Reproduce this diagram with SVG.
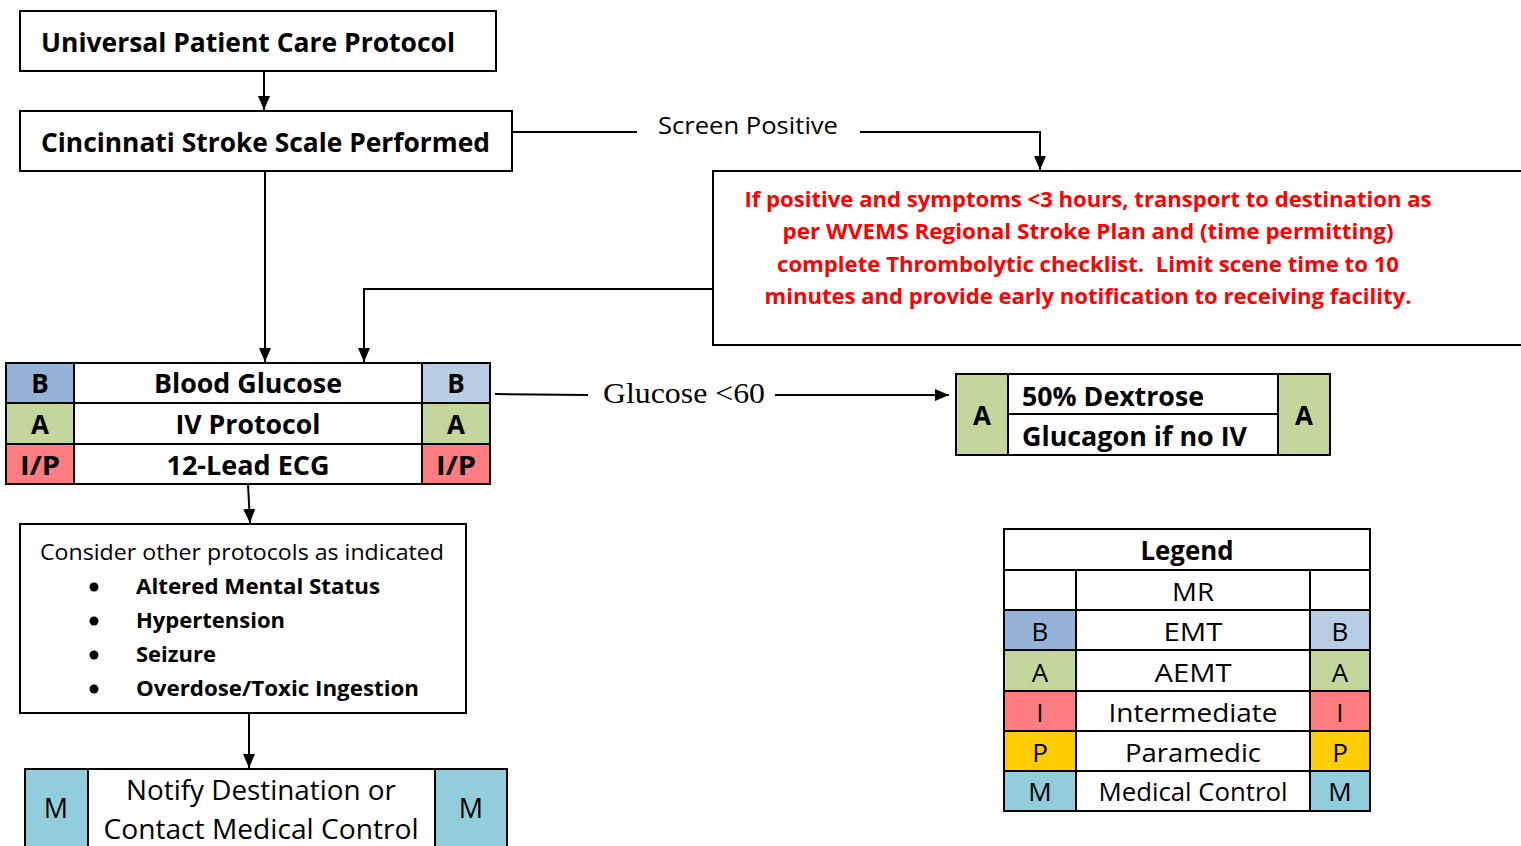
<svg xmlns="http://www.w3.org/2000/svg" width="1521" height="846" viewBox="0 0 1521 846">
<style>
.box{fill:#fff;stroke:#000;stroke-width:2}
.cell{stroke:#000;stroke-width:2}
.ln{fill:none;stroke:#000;stroke-width:2}
.t{font-family:"Open Sans","Liberation Sans",sans-serif;fill:#000}
.b{font-weight:bold}
.c{text-anchor:middle}
.red{fill:#FF0000;font-weight:bold;font-size:21px;text-anchor:middle}
.bl{fill:#95B3D7}.bl2{fill:#B8CCE4}.gr{fill:#C3D69B}.rd{fill:#FF7C80}.yl{fill:#FFCC00}.cy{fill:#92CDDC}.wh{fill:#fff}
</style>
<defs>
<marker id="ah" markerWidth="14" markerHeight="12" refX="14" refY="6" orient="auto" markerUnits="userSpaceOnUse">
<path d="M0,0 L14,6 L0,12 Z" fill="#000"/>
</marker>
</defs>

<g id="connectors">
<line class="ln" x1="264" y1="71" x2="264" y2="110" marker-end="url(#ah)"/>
<polyline class="ln" points="512,132 637,132"/>
<polyline class="ln" points="860,132 1040,132 1040,170" marker-end="url(#ah)"/>
<line class="ln" x1="265" y1="171" x2="265" y2="362" marker-end="url(#ah)"/>
<polyline class="ln" points="713,289 364,289 364,362" marker-end="url(#ah)"/>
<line class="ln" x1="495" y1="394" x2="588" y2="395"/>
<line class="ln" x1="775" y1="395" x2="949" y2="395" marker-end="url(#ah)"/>
<line class="ln" x1="248" y1="484" x2="250" y2="523" marker-end="url(#ah)"/>
<line class="ln" x1="249" y1="713" x2="249" y2="768" marker-end="url(#ah)"/>
<text class="t" x="658" y="134" font-size="23" textLength="180" lengthAdjust="spacingAndGlyphs">Screen Positive</text>
<text x="603" y="403" font-family="'Liberation Serif',serif" font-size="30" textLength="162" lengthAdjust="spacingAndGlyphs">Glucose &lt;60</text>
</g>

<g id="universal">
<rect class="box" x="20" y="11" width="476" height="60"/>
<text class="t b" x="41" y="52" font-size="27" textLength="414" lengthAdjust="spacingAndGlyphs">Universal Patient Care Protocol</text>
</g>

<g id="cincinnati">
<rect class="box" x="20" y="111" width="492" height="60"/>
<text class="t b" x="41" y="152" font-size="27" textLength="449" lengthAdjust="spacingAndGlyphs">Cincinnati Stroke Scale Performed</text>
</g>

<g id="positive">
<rect class="box" x="713" y="171" width="820" height="174"/>
<text class="t red" x="1088" y="207" textLength="687" lengthAdjust="spacingAndGlyphs">If positive and symptoms &lt;3 hours, transport to destination as</text>
<text class="t red" x="1088" y="239" textLength="611" lengthAdjust="spacingAndGlyphs">per WVEMS Regional Stroke Plan and (time permitting)</text>
<text class="t red" x="1088" y="272" textLength="622" lengthAdjust="spacingAndGlyphs">complete Thrombolytic checklist.&#160; Limit scene time to 10</text>
<text class="t red" x="1088" y="304" textLength="647" lengthAdjust="spacingAndGlyphs">minutes and provide early notification to receiving facility.</text>
</g>

<g id="glucose">
<rect class="cell bl" x="6" y="363" width="68" height="40"/>
<rect class="cell wh" x="74" y="363" width="348" height="40"/>
<rect class="cell bl2" x="422" y="363" width="68" height="40"/>
<rect class="cell gr" x="6" y="403" width="68" height="41"/>
<rect class="cell wh" x="74" y="403" width="348" height="41"/>
<rect class="cell gr" x="422" y="403" width="68" height="41"/>
<rect class="cell rd" x="6" y="444" width="68" height="40"/>
<rect class="cell wh" x="74" y="444" width="348" height="40"/>
<rect class="cell rd" x="422" y="444" width="68" height="40"/>
<g class="t b c" font-size="26">
<text x="40" y="393">B</text><text x="456" y="393">B</text>
<text x="40" y="434">A</text><text x="456" y="434">A</text>
<text x="40" y="475" textLength="40" lengthAdjust="spacingAndGlyphs">I/P</text><text x="456" y="475" textLength="40" lengthAdjust="spacingAndGlyphs">I/P</text>
<text x="248" y="393" textLength="188" lengthAdjust="spacingAndGlyphs">Blood Glucose</text>
<text x="248" y="434" textLength="145" lengthAdjust="spacingAndGlyphs">IV Protocol</text>
<text x="248" y="475" textLength="163" lengthAdjust="spacingAndGlyphs">12-Lead ECG</text>
</g>
</g>

<g id="dextrose">
<rect class="cell gr" x="956" y="374" width="52" height="81"/>
<rect class="cell wh" x="1008" y="374" width="270" height="40"/>
<rect class="cell wh" x="1008" y="414" width="270" height="41"/>
<rect class="cell gr" x="1278" y="374" width="52" height="81"/>
<g class="t b" font-size="26">
<text class="c" x="982" y="425">A</text><text class="c" x="1304" y="425">A</text>
<text x="1022" y="406" textLength="182" lengthAdjust="spacingAndGlyphs">50% Dextrose</text>
<text x="1022" y="446" textLength="225" lengthAdjust="spacingAndGlyphs">Glucagon if no IV</text>
</g>
</g>

<g id="consider">
<rect class="box" x="20" y="524" width="446" height="189"/>
<text class="t" x="40" y="560" font-size="22" textLength="404" lengthAdjust="spacingAndGlyphs">Consider other protocols as indicated</text>
<g fill="#000">
<circle cx="94" cy="587" r="4.5"/><circle cx="94" cy="621" r="4.5"/><circle cx="94" cy="655" r="4.5"/><circle cx="94" cy="689" r="4.5"/>
</g>
<g class="t b" font-size="22">
<text x="136" y="594" textLength="244" lengthAdjust="spacingAndGlyphs">Altered Mental Status</text>
<text x="136" y="628" textLength="149" lengthAdjust="spacingAndGlyphs">Hypertension</text>
<text x="136" y="662" textLength="80" lengthAdjust="spacingAndGlyphs">Seizure</text>
<text x="136" y="696" textLength="283" lengthAdjust="spacingAndGlyphs">Overdose/Toxic Ingestion</text>
</g>
</g>

<g id="notify">
<rect class="cell cy" x="25" y="769" width="63" height="82"/>
<rect class="cell wh" x="88" y="769" width="347" height="82"/>
<rect class="cell cy" x="435" y="769" width="72" height="82"/>
<g class="t c" font-size="27">
<text x="56" y="818">M</text><text x="471" y="818">M</text>
<text x="261" y="800" textLength="270" lengthAdjust="spacingAndGlyphs">Notify Destination or</text>
<text x="261" y="839" textLength="315" lengthAdjust="spacingAndGlyphs">Contact Medical Control</text>
</g>
</g>

<g id="legend">
<rect class="cell wh" x="1004" y="529" width="366" height="41"/>
<rect class="cell wh" x="1004" y="570" width="72" height="40"/><rect class="cell wh" x="1076" y="570" width="234" height="40"/><rect class="cell wh" x="1310" y="570" width="60" height="40"/>
<rect class="cell bl" x="1004" y="610" width="72" height="40"/><rect class="cell wh" x="1076" y="610" width="234" height="40"/><rect class="cell bl2" x="1310" y="610" width="60" height="40"/>
<rect class="cell gr" x="1004" y="650" width="72" height="41"/><rect class="cell wh" x="1076" y="650" width="234" height="41"/><rect class="cell gr" x="1310" y="650" width="60" height="41"/>
<rect class="cell rd" x="1004" y="691" width="72" height="40"/><rect class="cell wh" x="1076" y="691" width="234" height="40"/><rect class="cell rd" x="1310" y="691" width="60" height="40"/>
<rect class="cell yl" x="1004" y="731" width="72" height="40"/><rect class="cell wh" x="1076" y="731" width="234" height="40"/><rect class="cell yl" x="1310" y="731" width="60" height="40"/>
<rect class="cell cy" x="1004" y="771" width="72" height="40"/><rect class="cell wh" x="1076" y="771" width="234" height="40"/><rect class="cell cy" x="1310" y="771" width="60" height="40"/>
<text class="t b c" x="1187" y="560" font-size="27" textLength="93" lengthAdjust="spacingAndGlyphs">Legend</text>
<g class="t c" font-size="26">
<text x="1193" y="601" textLength="42" lengthAdjust="spacingAndGlyphs">MR</text>
<text x="1040" y="641">B</text><text x="1193" y="641" textLength="59" lengthAdjust="spacingAndGlyphs">EMT</text><text x="1340" y="641">B</text>
<text x="1040" y="682">A</text><text x="1193" y="682" textLength="77" lengthAdjust="spacingAndGlyphs">AEMT</text><text x="1340" y="682">A</text>
<text x="1040" y="722">I</text><text x="1193" y="722" textLength="169" lengthAdjust="spacingAndGlyphs">Intermediate</text><text x="1340" y="722">I</text>
<text x="1040" y="762">P</text><text x="1193" y="762" textLength="136" lengthAdjust="spacingAndGlyphs">Paramedic</text><text x="1340" y="762">P</text>
<text x="1040" y="801">M</text><text x="1193" y="801" textLength="189" lengthAdjust="spacingAndGlyphs">Medical Control</text><text x="1340" y="801">M</text>
</g>
</g>
</svg>
